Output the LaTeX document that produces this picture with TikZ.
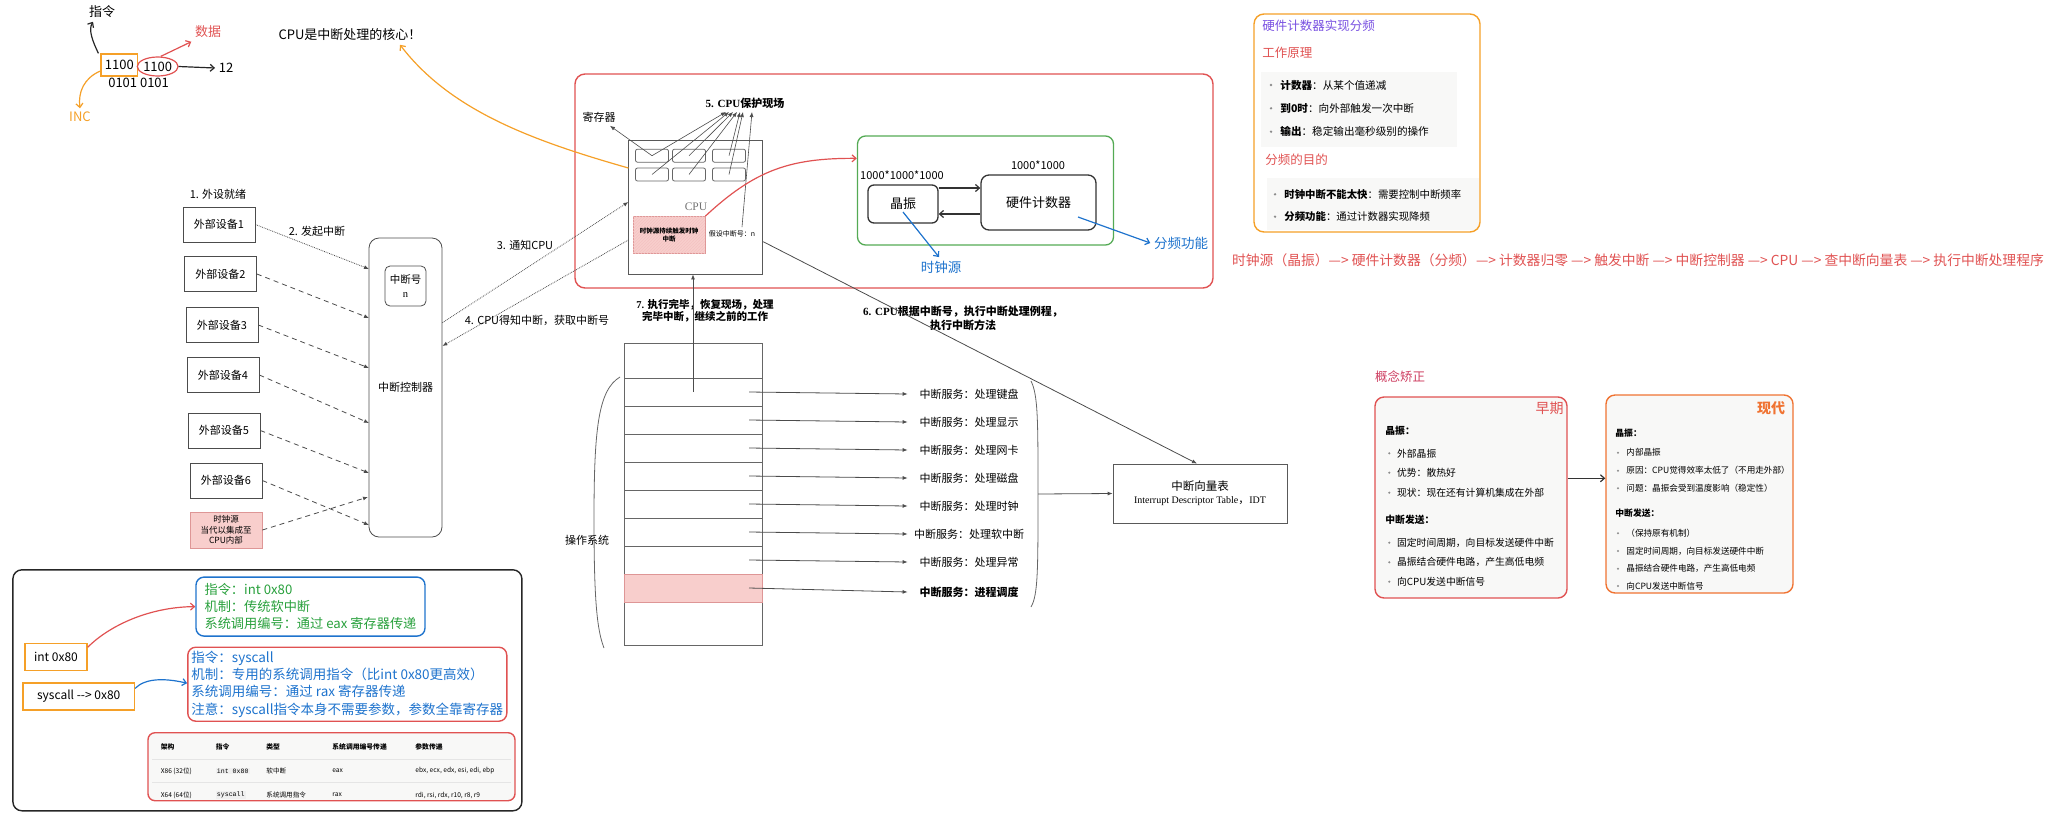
\documentclass[tikz,border=0pt]{standalone}
\usepackage{fontspec}
\setmainfont{Noto Sans CJK SC}
\newfontfamily\serifLatin{Liberation Serif}
\newfontfamily\monoLatin{Liberation Mono}
\usepackage{tikz}
\usetikzlibrary{shapes.geometric, arrows.meta, positioning, calc, patterns}
\definecolor{cRed}{RGB}{224,82,82}
\definecolor{cGreen}{RGB}{84,170,84}
\definecolor{cOrange}{RGB}{245,160,40}
\definecolor{cDeepOrange}{RGB}{240,115,50}
\definecolor{cBlue}{RGB}{30,115,205}
\definecolor{cPink}{RGB}{248,206,204}
\definecolor{cPinkLine}{RGB}{222,150,150}
\definecolor{cPurple}{RGB}{120,80,225}
\definecolor{cHand}{RGB}{40,160,60}
\definecolor{cPanel}{RGB}{248,248,247}
\definecolor{cCrimson}{RGB}{205,60,95}
\newcommand{\fsz}[2]{\fontsize{#1}{#2}\selectfont}
\tikzset{
	devbox/.style={draw=black!70, minimum width=72pt, minimum height=35pt, inner sep=0pt},
	clkbox/.style={draw=cPinkLine, fill=cPink, minimum width=72pt, minimum height=36pt, inner sep=0pt, align=center, font=\fsz{8.5}{10.5}},
	dotarrow/.style={-{Latex[length=5pt,width=4pt]}, densely dotted, black!70},
	dasharrow/.style={-{Latex[length=5pt,width=4pt]}, dash pattern=on 5pt off 4pt, black!70},
	linkarrow/.style={-{Latex[length=5pt,width=4pt]}, black!70},
	barbarrow/.style={-{Straight Barb[length=4pt,width=7pt]}, line width=1.2pt},
	regcell/.style={draw=black!60, rounded corners=2pt, minimum width=33pt, minimum height=13pt, inner sep=0pt},
	slot/.style={draw=black!60, minimum width=138pt, minimum height=28pt, inner sep=0pt},
	svclabel/.style={minimum width=122pt, inner sep=0pt, font=\fsz{11}{13}},
	bulletdot/.style={circle, fill=black!45, inner sep=0pt, minimum size=2.6pt},
	note/.style={anchor=west, inner sep=0pt},
	% rounded frames
	softframe/.style={rounded corners=9pt, line width=1.4pt},
}

\begin{document}
\begin{tikzpicture}[x=1pt, y=-1pt, line width=0.8pt, font=\fsz{11}{13}]
\useasboundingbox (0,0) rectangle (2067,820);

% bit fields
\node[draw=cOrange, line width=1.3pt, minimum width=36.5pt, minimum height=22pt, inner sep=1pt, font=\fsz{13}{15}] (opbits) at (119.3,65) {1100};
\node[ellipse, draw=cRed, line width=1.2pt, minimum width=38pt, minimum height=19pt, inner sep=0pt, font=\fsz{13}{15}] (databits) at (157.7,66.5) {1100};
\node[font=\fsz{13}{15}] (lowbits) at (138.6,83) {0101 0101};
\node[font=\fsz{13}{15}] (opname) at (102,12) {指令};
\node[font=\fsz{13}{15}, text=cRed] (dataname) at (208,32) {数据};
\node[font=\fsz{13}{15}] (twelve) at (226,68) {12};
\node[font=\fsz{13}{15}, text=cOrange] (inc) at (80,117) {INC};
\draw[barbarrow, black!85] ([xshift=-2pt]opbits.north west) .. controls (93,42) and (88,30) .. ([xshift=-9pt]opname.south);
\draw[barbarrow, cRed] ([xshift=3pt]databits.north) -- (dataname.south west);
\draw[barbarrow, black!85] (databits.east) -- (twelve.west);
\draw[barbarrow, cOrange] ([yshift=-6pt]opbits.west) .. controls (84,78) and (78,92) .. (inc.north);
\node[font=\fsz{13}{15}] (core) at (350,35) {CPU是中断处理的核心！};

% devices and controller
\node (ready) at (218,194) {1. 外设就绪};
\node (raise) at (317,231) {2. 发起中断};
\node[draw=black!70, rounded corners=10pt, minimum width=73pt, minimum height=299pt] (ctrl) at (405.5,387.5) {中断控制器};
\node[draw=black!70, rounded corners=5pt, minimum width=41pt, minimum height=40pt, align=center, font=\fsz{10.5}{14}] (irqno) at (405.5,286) {中断号\\{\serifLatin n}};
\foreach \i/\x/\y/\ty/\st in {1/219/224.5/269/dotarrow, 2/220.5/274/318/dasharrow, 3/222/325/368/dasharrow, 4/223/375/423/dasharrow, 5/224/430.5/473/dasharrow, 6/226/480.5/525/dasharrow}{
	\node[devbox] (dev\i) at (\x,\y) {外部设备\i};
	\coordinate (in\i) at (369,\ty);
	\draw[\st] (dev\i.east) -- (in\i);
}
\node[clkbox] (clk) at (226,530) {时钟源\\当代以集成至\\CPU内部};
\coordinate (in7) at (368,497);
\draw[dasharrow] (clk.east) -- (in7);

% kernel frame and cpu
\node[draw=cRed, softframe, rounded corners=10pt, minimum width=638pt, minimum height=214pt] (kernel) at (894,181) {};
\node[draw=black!65, minimum width=134pt, minimum height=134pt] (cpu) at (695.8,207) {};
\node[font=\serifLatin\fsz{11.5}{13}, text=black!55] (cpulbl) at (696,207) {CPU};
\foreach \r/\y in {1/155.7, 2/174.5}
	\foreach \c/\x in {1/652, 2/689, 3/729}
		\node[regcell] (r\r\c) at (\x,\y) {};
\node[font=\bfseries\fsz{11}{13}] (save) at (745,103) {{\serifLatin 5. CPU}保护现场};
\node (regs) at (599,117) {寄存器};
\node[clkbox, minimum width=72pt, minimum height=37pt, font=\bfseries\fsz{6.5}{8}, postaction={pattern=north east lines, pattern color=cRed!35}] (tick) at (669,235) {时钟源持续触发时钟\\中断};
\node[font=\fsz{7}{8}] (hyp) at (732,234) {假设中断号：n};
\draw[linkarrow, line width=0.6pt] (r11.center) -- ([xshift=11pt]regs.south);
\foreach \src/\dx in {r11/-19, r21/-16, r12/-12, r22/-8, r13/-5, r23/-2}
	\draw[linkarrow, line width=0.6pt] (\src.center) -- ([xshift=\dx pt]save.south);
\draw[linkarrow, line width=0.6pt] ([xshift=10pt]hyp.north) -- ([xshift=7pt]save.south);
\draw[dotarrow] ([yshift=64.8pt]ctrl.east) -- ([yshift=5pt]cpu.west);
\draw[dotarrow] ([yshift=-33pt]cpu.west) -- ([yshift=41.5pt]ctrl.east);
\node (notify) at (525,245) {3. 通知CPU};
\node (fetch) at (537,320) {4. CPU得知中断，获取中断号};
\draw[barbarrow, cOrange] ([yshift=39pt]cpu.west) .. controls (530,140) and (450,110) .. ([xshift=50pt]core.south);

% clock divider
\node[draw=cGreen, line width=1.3pt, rounded corners=8pt, minimum width=256pt, minimum height=109pt] (grn) at (985.5,190.5) {};
\node[draw=black!80, line width=1.3pt, rounded corners=6pt, minimum width=70pt, minimum height=38pt, font=\fsz{13}{15}] (xtal) at (903,204) {晶振};
\node[draw=black!80, line width=1.3pt, rounded corners=8pt, minimum width=115pt, minimum height=55pt, font=\fsz{13}{15}] (cnt) at (1038.5,202.5) {硬件计数器};
\node (xtalfreq) at (902,175) {1000*1000*1000};
\node (cntfreq) at (1038,165) {1000*1000};
\draw[barbarrow, black!80] ([yshift=16pt]xtal.east) -- ([yshift=16pt]xtal.east -| cnt.west);
\draw[barbarrow, black!80] ([yshift=-10pt]xtal.east -| cnt.west) -- ([yshift=-10pt]xtal.east);
\coordinate (gin) at ($(grn.north west)+(0,23)$);
\draw[barbarrow, cRed] (tick.north east) .. controls (755,170) and (790,158) .. (gin);
\node[text=cBlue, font=\fsz{13.5}{15}] (clksrc) at (941,267) {时钟源};
\node[text=cBlue, font=\fsz{13.5}{15}] (divfn) at (1181,243) {分频功能};
\draw[barbarrow, cBlue] ([yshift=-8pt]xtal.center) -- ([xshift=-2pt]clksrc.north);
\draw[barbarrow, cBlue] ([xshift=39.5pt, yshift=-14.5pt]cnt.center) -- (divfn.west);
\node[font=\bfseries\fsz{10.5}{12}, align=center] (restore) at (705,311) {{\serifLatin 7.} 执行完毕，恢复现场，处理\\完毕中断，继续之前的工作};
\node[font=\bfseries\fsz{11}{14}, align=center] (dispatch) at (963,318) {{\serifLatin 6. CPU}根据中断号，执行中断处理例程，\\执行中断方法};

% vector table in memory
\node[draw=black!60, minimum width=138pt, minimum height=302pt] (mem) at (693,494) {};
\foreach \i/\txt in {1/处理键盘, 2/处理显示, 3/处理网卡, 4/处理磁盘, 5/处理时钟, 6/处理软中断, 7/处理异常}{
	\node[slot] (s\i) at (693,{364+28*\i}) {};
	\node[svclabel] (svc\i) at (969,{366+28*\i}) {中断服务：\txt};
	\draw[linkarrow] ([xshift=56pt]s\i.center) -- (svc\i.west);
}
\node[slot, draw=cPinkLine, fill=cPink] (s8) at (693,588) {};
\node[svclabel, font=\bfseries\fsz{11}{13}] (svc8) at (969,592) {中断服务：进程调度};
\draw[linkarrow] ([xshift=56pt]s8.center) -- (svc8.west);
\draw[linkarrow] (s1.center) -- (s1.center |- cpu.south);
\draw[black!60] (620,377) .. controls (598,390) and (594,430) .. (594,520) .. controls (594,600) and (597,630) .. (604,648);
\node (os) at (587,540) {操作系统};
\node[draw=black!65, minimum width=174pt, minimum height=59pt, align=center] (idt) at (1200,493.5) {\fsz{11.5}{16}中断向量表\\{\serifLatin\fsz{10}{12}Interrupt Descriptor Table}，{\serifLatin\fsz{10}{12}IDT}};
\draw[black!60] (1031,381) .. controls (1038,395) and (1038,420) .. (1038,494) .. controls (1038,570) and (1038,595) .. (1031,607);
\coordinate (bracetip) at (1038,494);
\draw[linkarrow] (bracetip) -- (idt.west);
\draw[linkarrow] ([yshift=-34.7pt]cpu.east) -- ([xshift=-3pt]idt.north);

% divider notes
\fill[cPanel] (1261,72) rectangle (1457,147);
\fill[cPanel] (1267,178) rectangle (1479,230);
\node[draw=cOrange, softframe, rounded corners=10pt, minimum width=226pt, minimum height=218pt] (divbox) at (1367,123) {};
\node[note, text=cPurple, font=\fsz{12.5}{14}] (divtitle) at (1262,26) {硬件计数器实现分频};
\node[note, text=cRed, font=\fsz{12.5}{14}] (principle) at (1262,53) {工作原理};
\foreach \y/\k/\v [count=\n] in {85/计数器/从某个值递减, 108.3/到0时/向外部触发一次中断, 131.7/输出/稳定输出毫秒级别的操作}{
	\node[bulletdot] (wpdot\n) at (1271,\y) {};
	\node[note, font=\fsz{10.6}{12}] (wp\n) at (1280,\y) {\textbf{\k}：\v};
}
\node[note, text=cRed, font=\fsz{12.5}{14}] (purpose) at (1265,160) {分频的目的};
\foreach \y/\k/\v [count=\n] in {194.3/时钟中断不能太快/需要控制中断频率, 216.7/分频功能/通过计数器实现降频}{
	\node[bulletdot] (gldot\n) at (1275,\y) {};
	\node[note, font=\fsz{10.4}{12}] (gl\n) at (1284,\y) {\textbf{\k}：\v};
}
\node[text=cRed, font=\fsz{13.8}{15}] (flow) at (1638,260) {时钟源（晶振）—> 硬件计数器（分频）—> 计数器归零 —> 触发中断 —> 中断控制器 —> CPU —> 查中断向量表 —> 执行中断处理程序};

% concept correction
\node[text=cCrimson, font=\fsz{12.5}{14}] (correct) at (1400,377) {概念矫正};
\node[draw=cRed, fill=cPanel, softframe, minimum width=192pt, minimum height=201pt] (early) at (1471,497.5) {};
\node[draw=cDeepOrange, fill=cPanel, softframe, minimum width=187pt, minimum height=198pt] (modern) at (1699.5,494) {};
\node[text=cRed, font=\fsz{14}{16}] (earlyttl) at (1549.5,408) {早期};
\node[text=cDeepOrange, font=\bfseries\fsz{14}{16}] (modernttl) at (1771,408) {现代};
\draw[barbarrow, black!80] ([yshift=19.2pt]early.east) -- ([yshift=19.2pt]early.east -| modern.west);
\foreach \y/\t [count=\n] in {431/晶振：, 520/中断发送：}
	\node[note, font=\bfseries\fsz{9.8}{11}] (eh\n) at (1385,\y) {\t};
\foreach \y/\t [count=\n] in {453.3/外部晶振, 472.7/优势：散热好, 492.7/现状：现在还有计算机集成在外部, 542.7/固定时间周期，向目标发送硬件中断, 562.3/晶振结合硬件电路，产生高低电频, 581.7/向CPU发送中断信号}{
	\node[bulletdot, minimum size=2.3pt] (edot\n) at (1389.3,\y) {};
	\node[note, font=\fsz{9.8}{11}] (eb\n) at (1396.7,\y) {\t};
}
\foreach \y/\t [count=\n] in {432.7/晶振：, 512.7/中断发送：}
	\node[note, font=\bfseries\fsz{8.8}{10}] (mh\n) at (1615,\y) {\t};
\foreach \y/\t [count=\n] in {452.7/内部晶振, 470.7/原因：CPU觉得效率太低了（不用走外部）, 488.3/问题：晶振会受到温度影响（稳定性）, 533.3/（保持原有机制）, 551/固定时间周期，向目标发送硬件中断, 568.7/晶振结合硬件电路，产生高低电频, 586/向CPU发送中断信号}{
	\node[bulletdot, minimum size=2.2pt] (mdot\n) at (1618,\y) {};
	\node[note, font=\fsz{8.6}{10}] (mb\n) at (1626,\y) {\t};
}

% system call frame
\node[draw=black!85, softframe, minimum width=509pt, minimum height=241pt] (sysframe) at (267.4,690.3) {};
\node[draw=cBlue, softframe, rounded corners=8pt, minimum width=229pt, minimum height=59pt, align=left, text=cHand, font=\fsz{13.2}{17}] (intbox) at (310.5,606.6) {指令：int 0x80\\机制：传统软中断\\系统调用编号：通过 eax 寄存器传递};
\node[draw=cRed, softframe, rounded corners=8pt, minimum width=319pt, minimum height=74pt, inner sep=1pt, align=left, text=cBlue, font=\fsz{13.5}{17.3}] (scbox) at (347.3,684.2) {指令：syscall\\机制：专用的系统调用指令（比int 0x80更高效）\\系统调用编号：通过 rax 寄存器传递\\注意：syscall指令本身不需要参数，参数全靠寄存器};
\node[draw=cOrange, line width=1.3pt, minimum width=62pt, minimum height=27pt, font=\fsz{12}{14}] (int80) at (56,657.3) {int 0x80};
\node[draw=cOrange, line width=1.3pt, minimum width=111.5pt, minimum height=27pt, font=\fsz{12}{14}] (sysc) at (78.7,696.4) {syscall {-}{-}> 0x80};
\draw[barbarrow, cRed] ([yshift=10pt]int80.east) .. controls (110,625) and (150,607) .. (intbox.west);
\draw[barbarrow, cBlue] ([yshift=8pt]sysc.east) .. controls (145,678) and (165,678) .. ([yshift=1pt]scbox.west);
\node[draw=cRed, fill=cPanel, softframe, rounded corners=7pt, minimum width=367pt, minimum height=68pt] (systab) at (331.5,766.7) {};
\draw[black!10] (152,759) -- (511,759);
\draw[black!10] (152,782.3) -- (511,782.3);
\foreach \x/\h [count=\n] in {160.5/架构, 215.5/指令, 266/类型, 332/系统调用编号传递, 415/参数传递}
	\node[note, font=\bfseries\fsz{6.8}{8}] (th\n) at (\x,746.7) {\h};
\foreach \x/\c [count=\n] in {160.5/X86 (32位), 266/软中断, 332/eax, 415/{ebx, ecx, edx, esi, edi, ebp}}
	\node[note, font=\fsz{6.6}{8}] (ta\n) at (\x,771) {\c};
\foreach \x/\c [count=\n] in {160.5/X64 (64位), 266/系统调用指令, 332/rax, 415/{rdi, rsi, rdx, r10, r8, r9}}
	\node[note, font=\fsz{6.6}{8}] (tb\n) at (\x,795) {\c};
\node[note, fill=black!6, inner sep=1pt, font=\monoLatin\fsz{6.6}{8}] (tacode) at (215.5,771) {int 0x80};
\node[note, fill=black!6, inner sep=1pt, font=\monoLatin\fsz{6.6}{8}] (tbcode) at (215.5,795) {syscall};
\end{tikzpicture}
\end{document}
